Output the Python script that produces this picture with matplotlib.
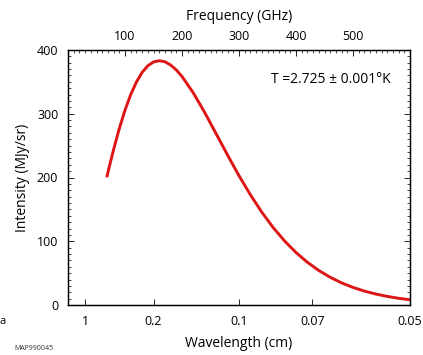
import matplotlib
matplotlib.use("Agg")
import matplotlib.pyplot as plt
from matplotlib.ticker import MultipleLocator

# Frequency (GHz) and intensity (MJy/sr)
freq_ghz = [68, 74, 80, 90, 100, 110, 120, 130, 140, 150, 160, 170, 180, 190, 200,
            220, 240, 260, 280, 300, 320, 340, 360, 380, 400, 420, 440, 460, 480,
            500, 520, 540, 560, 580, 600]
intensity = [200.3, 222.6, 243.9, 276.7, 305.6, 330.0, 349.7, 364.8, 375.2, 381.2,
             383.2, 381.6, 376.5, 368.7, 358.5, 332.5, 301.7, 268.4, 235.1, 202.8,
             172.9, 145.6, 121.4, 100.4, 82.3, 67.0, 54.1, 43.5, 34.7, 27.6, 21.8,
             17.2, 13.5, 10.5, 8.2]

wavelength_labels = ["1", "0.2", "0.1", "0.07", "0.05"]
wavelength_cm = [1.0, 0.2, 0.1, 0.07, 0.05]
freq_ticks = [100, 200, 300, 400, 500]
y_ticks = [0, 100, 200, 300, 400]

plt.rcParams['font.family'] = ['Open Sans', 'DejaVu Sans']

fig = plt.figure(figsize=(4.23, 3.55), dpi=100)
ax = fig.add_axes([68/423, 1 - 305/355, (410 - 68)/423, (305 - 50)/355])

ax.plot(freq_ghz, intensity, color="#dd1515", lw=2.1, solid_capstyle="butt")
ax.set_xlim(0, 600)
ax.set_ylim(0, 400)

# bottom wavelength axis
ax.set_xticks([30.0 / w for w in wavelength_cm])
ax.set_xticklabels(wavelength_labels)
ax.set_yticks(y_ticks)
ax.yaxis.set_minor_locator(MultipleLocator(10))
ax.tick_params(axis="x", which="major", direction="in", length=4, width=0.6,
               labelsize=9, pad=7, top=False)
ax.tick_params(axis="y", which="major", direction="in", length=4, width=0.6,
               labelsize=9, pad=7, right=True)
ax.tick_params(axis="y", which="minor", direction="in", length=2.5, width=0.5,
               right=True)
for s in ax.spines.values():
    s.set_linewidth(1.0)

ax.set_xlabel("Wavelength (cm)", fontsize=10, labelpad=6)
ax.set_ylabel("Intensity (MJy/sr)", fontsize=10, labelpad=5)

# top frequency axis
ax2 = ax.twiny()
ax2.set_xlim(0, 600)
ax2.set_xticks(freq_ticks)
ax2.xaxis.set_minor_locator(MultipleLocator(10))
ax2.tick_params(axis="x", which="major", direction="in", length=4, width=0.6,
                labelsize=9, pad=5)
ax2.tick_params(axis="x", which="minor", direction="in", length=2.5, width=0.5)
ax2.set_xlabel("Frequency (GHz)", fontsize=10, labelpad=7)

ax.text(0.594, 0.885, "T =2.725 \u00b1 0.001\u00b0K", transform=ax.transAxes,
        fontsize=10, va="center", ha="left")

fig.text(14/423, 1 - 348/355, "MAP990045", fontsize=5, va="center", ha="left",
         color="#333333")
fig.text(-1/423, 1 - 322/355, "a", fontsize=8, va="center", ha="left")

fig.savefig("out.png", dpi=100)
